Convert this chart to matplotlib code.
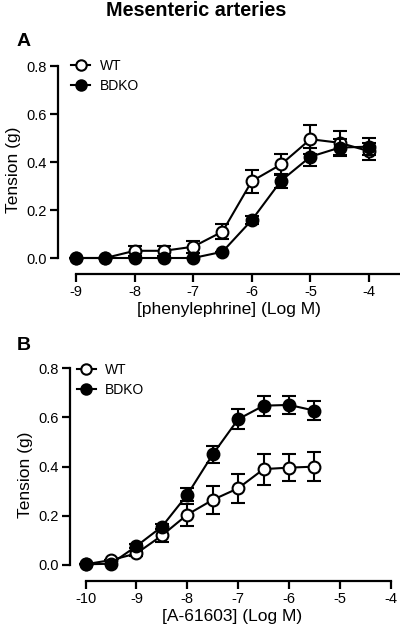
import matplotlib
matplotlib.use("Agg")
import matplotlib.pyplot as plt
from matplotlib.lines import Line2D
import numpy as np

plt.rcParams['font.family'] = ['Liberation Sans', 'DejaVu Sans']

W, H = 400, 628

# Panel A: phenylephrine
pe_logm = [-9, -8.5, -8, -7.5, -7, -6.5, -6, -5.5, -5, -4.5, -4]
pe_wt = [0.0, 0.0, 0.03, 0.03, 0.047, 0.11, 0.32, 0.39, 0.495, 0.48, 0.445]
pe_wt_err = [0.0, 0.0, 0.02, 0.02, 0.025, 0.03, 0.048, 0.045, 0.06, 0.05, 0.035]
pe_ko = [0.0, 0.0, 0.0, 0.0, 0.0, 0.026, 0.158, 0.322, 0.422, 0.46, 0.464]
pe_ko_err = [0.0, 0.0, 0.0, 0.0, 0.0, 0.0, 0.017, 0.03, 0.037, 0.037, 0.035]

# Panel B: A-61603
a6_logm = [-10, -9.5, -9, -8.5, -8, -7.5, -7, -6.5, -6, -5.5]
a6_wt = [0.003, 0.02, 0.047, 0.12, 0.205, 0.265, 0.312, 0.39, 0.396, 0.40]
a6_wt_err = [0.0, 0.0, 0.01, 0.025, 0.045, 0.057, 0.06, 0.063, 0.055, 0.06]
a6_ko = [0.003, 0.005, 0.077, 0.156, 0.286, 0.45, 0.593, 0.648, 0.651, 0.628]
a6_ko_err = [0.0, 0.0, 0.008, 0.01, 0.026, 0.034, 0.04, 0.04, 0.037, 0.037]

yticks = [0.0, 0.2, 0.4, 0.6, 0.8]
series_names = ['WT', 'BDKO']


def px_axes(fig, left, right, top, bottom):
    return fig.add_axes([left / W, 1 - bottom / H, (right - left) / W,
                         (bottom - top) / H])


def style(ax, xmin, xmax, xticks):
    for s in ['top', 'right']:
        ax.spines[s].set_visible(False)
    ax.spines['left'].set_bounds(0, 0.8)
    ax.spines['bottom'].set_bounds(xmin, xmax)
    for s in ['left', 'bottom']:
        ax.spines[s].set_linewidth(1.6)
    ax.set_yticks(yticks)
    ax.set_yticklabels(['%.1f' % v for v in yticks])
    ax.set_xticks(xticks)
    ax.set_xticklabels(['%d' % v for v in xticks])
    ax.tick_params(width=1.6, length=6, labelsize=10.5, pad=2)
    ax.set_ylabel('Tension (g)', fontsize=12.5, labelpad=4)


def curves(ax, x, wt, wt_err, ko, ko_err):
    kw = dict(color='black', lw=1.5, ms=8.5, capsize=5, elinewidth=1.5,
              capthick=1.5, clip_on=False, mew=1.5)
    ax.errorbar(x, wt, yerr=wt_err, fmt='-o', mfc='white', mec='black',
                zorder=3, **kw)
    ax.errorbar(x, ko, yerr=ko_err, fmt='-o', mfc='black', mec='black',
                zorder=4, **kw)


def legend(ax, left, top):
    handles = [Line2D([], [], color='black', lw=1.5, marker='o', ms=7.5,
                      mfc=fc, mec='black', mew=1.5)
               for fc in ['white', 'black']]
    ax.legend(handles, series_names, loc='upper left',
              bbox_to_anchor=(left / W, 1 - top / H),
              bbox_transform=fig.transFigure, frameon=False, fontsize=10,
              handlelength=1.4, handletextpad=0.65, labelspacing=0.45,
              borderpad=0, borderaxespad=0)


fig = plt.figure(figsize=(W / 100, H / 100), dpi=100)

fig.text(196 / W, 1 - 11 / H, 'Mesenteric arteries', ha='center', va='center',
         fontsize=14.2, fontweight='bold')
fig.text(17 / W, 1 - 41 / H, 'A', ha='left', va='center', fontsize=14,
         fontweight='bold')
fig.text(17 / W, 1 - 345 / H, 'B', ha='left', va='center', fontsize=14,
         fontweight='bold')

# panel A
axA = px_axes(fig, 58, 400, 66, 274)
curves(axA, pe_logm, pe_wt, pe_wt_err, pe_ko, pe_ko_err)
axA.set_xlim(-9 - 18 / 58.6, -4 + 31 / 58.6)
axA.set_ylim(-16 / 240, 0.8)
style(axA, -9, -4 + 31 / 58.6, [-9, -8, -7, -6, -5, -4])
axA.set_xlabel('[phenylephrine] (Log M)', fontsize=12.5, labelpad=2)
legend(axA, 71, 59)

# panel B
axB = px_axes(fig, 70, 395, 368.3, 581)
curves(axB, a6_logm, a6_wt, a6_wt_err, a6_ko, a6_ko_err)
axB.set_xlim(-10 - 15.7 / 51, -4 + 4.3 / 51)
axB.set_ylim(-16 / 245.8, 0.8)
style(axB, -10, -4, [-10, -9, -8, -7, -6, -5, -4])
axB.set_xlabel('[A-61603] (Log M)', fontsize=12.5, labelpad=2)
legend(axB, 76.5, 363)

fig.savefig('out.png', dpi=100)
